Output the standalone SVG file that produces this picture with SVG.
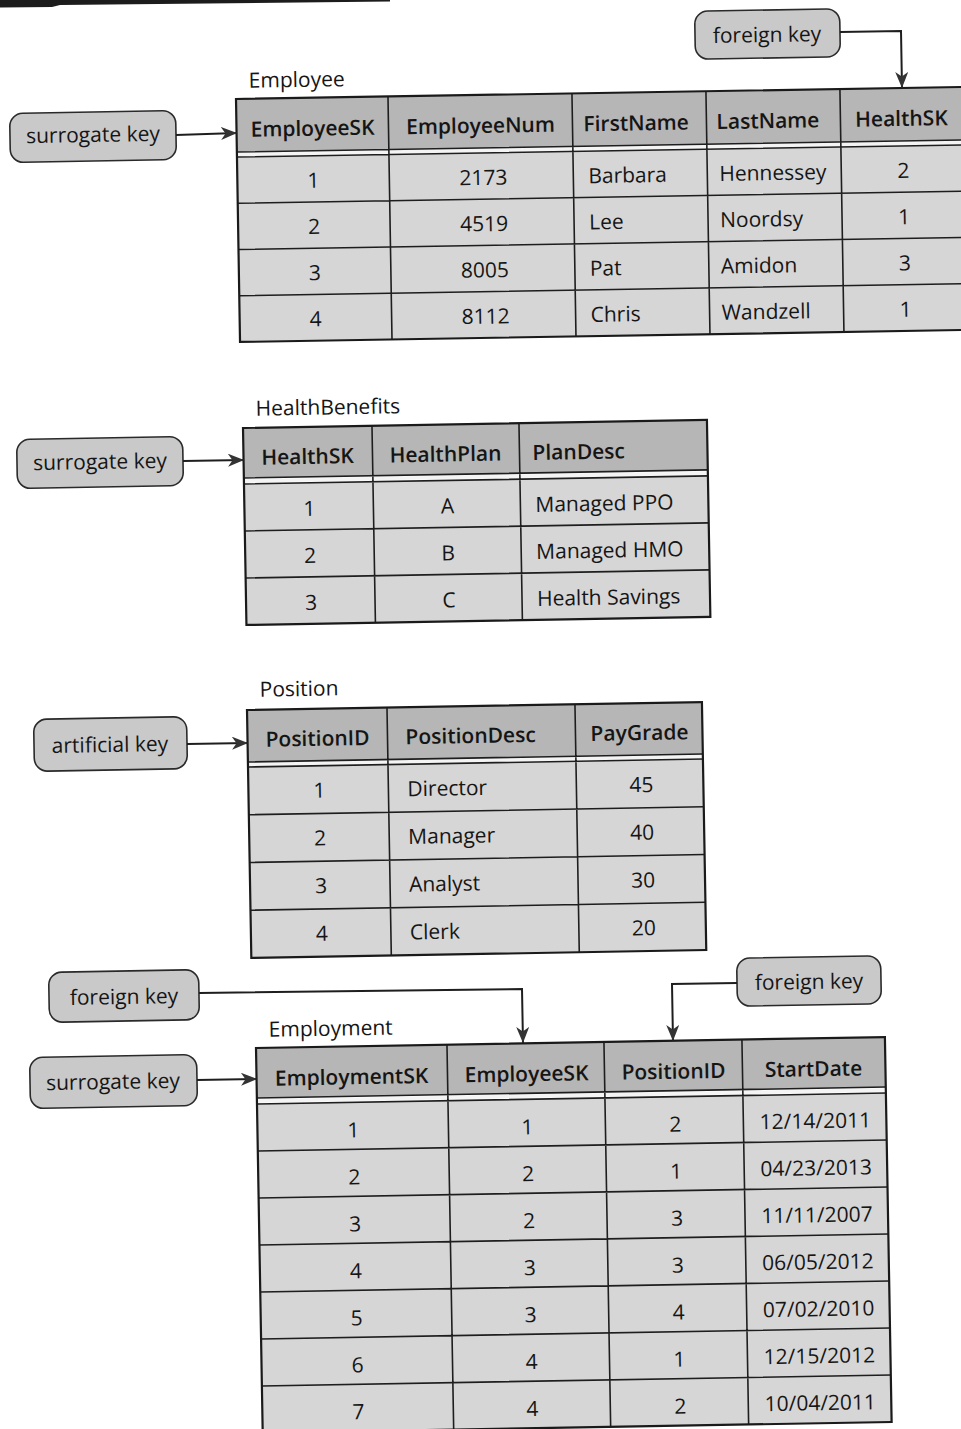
<svg xmlns="http://www.w3.org/2000/svg" width="961" height="1429" viewBox="0 0 961 1429">
  <defs>
    <style>
      text { font-family: "Open Sans", "Liberation Sans", sans-serif; font-size: 21px; fill: #151515; }
      .h { font-weight: 600; }
      .c { text-anchor: middle; }
      .hdr { fill: #b6b6b6; }
      .body { fill: #d6d6d6; }
      .grid { stroke: #1e1e1e; stroke-width: 1.6; fill: none; }
      .outer { stroke: #1a1a1a; stroke-width: 2.2; fill: none; }
      .gap { stroke: #f4f4f4; stroke-width: 3.5; }
      .key rect { fill: #c9c9c9; stroke: #2a2a2a; stroke-width: 1.6; }
      .conn { stroke: #1e1e1e; stroke-width: 2; fill: none; marker-end: url(#arrow); }
    </style>
    <marker id="arrow" markerUnits="userSpaceOnUse" markerWidth="18" markerHeight="14" refX="16" refY="6.5" orient="auto">
      <path d="M0,0 L16,6.5 L0,13 L4.5,6.5 Z" fill="#333333"/>
    </marker>
  </defs>

  <rect width="961" height="1429" fill="#ffffff"/>

  <!-- dark edge along the top of the sheet -->
  <path d="M0,0 H55 L390,0 V1.5 L60,5 L52,7 L0,7.5 Z" fill="#1c1c1c"/>

  <!-- Employee table -->
  <g id="employee" transform="translate(236 99) rotate(-0.95)">
    <text x="13" y="-11">Employee</text>
    <rect class="hdr" x="0" y="0" width="728" height="53"/>
    <rect class="body" x="0" y="58" width="728" height="185"/>
    <line class="gap" x1="0" y1="55.5" x2="728" y2="55.5"/>
    <path class="grid" d="M0,53 H728 M0,58 H728 M0,104.25 H728 M0,150.5 H728 M0,196.75 H728 M152,0 V243 M336,0 V243 M470,0 V243 M604,0 V243"/>
    <rect class="outer" x="0" y="0" width="728" height="243"/>
    <text class="h c" x="76" y="38">EmployeeSK</text>
    <text class="h c" x="244" y="38">EmployeeNum</text>
    <text class="h" x="347" y="38">FirstName</text>
    <text class="h" x="480" y="38">LastName</text>
    <text class="h c" x="665" y="38">HealthSK</text>
    <text class="c" x="76" y="90">1</text>
    <text class="c" x="246" y="90">2173</text>
    <text x="351" y="90">Barbara</text>
    <text x="482" y="90">Hennessey</text>
    <text class="c" x="666" y="90">2</text>
    <text class="c" x="76" y="136.25">2</text>
    <text class="c" x="246" y="136.25">4519</text>
    <text x="351" y="136.25">Lee</text>
    <text x="482" y="136.25">Noordsy</text>
    <text class="c" x="666" y="136.25">1</text>
    <text class="c" x="76" y="182.5">3</text>
    <text class="c" x="246" y="182.5">8005</text>
    <text x="351" y="182.5">Pat</text>
    <text x="482" y="182.5">Amidon</text>
    <text class="c" x="666" y="182.5">3</text>
    <text class="c" x="76" y="228.75">4</text>
    <text class="c" x="246" y="228.75">8112</text>
    <text x="351" y="228.75">Chris</text>
    <text x="482" y="228.75">Wandzell</text>
    <text class="c" x="666" y="228.75">1</text>
  </g>

  <!-- HealthBenefits table -->
  <g id="healthbenefits" transform="translate(243 428) rotate(-1)">
    <text x="13" y="-12">HealthBenefits</text>
    <rect class="hdr" x="0" y="0" width="464" height="50"/>
    <rect class="body" x="0" y="56" width="464" height="141"/>
    <line class="gap" x1="0" y1="53" x2="464" y2="53"/>
    <path class="grid" d="M0,50 H464 M0,56 H464 M0,103 H464 M0,150 H464 M129,0 V197 M276,0 V197"/>
    <rect class="outer" x="0" y="0" width="464" height="197"/>
    <text class="h c" x="64" y="37">HealthSK</text>
    <text class="h c" x="202" y="37">HealthPlan</text>
    <text class="h" x="289" y="37">PlanDesc</text>
    <text class="c" x="65" y="89">1</text>
    <text class="c" x="203" y="89">A</text>
    <text x="291" y="89">Managed PPO</text>
    <text class="c" x="65" y="136">2</text>
    <text class="c" x="203" y="136">B</text>
    <text x="291" y="136">Managed HMO</text>
    <text class="c" x="65" y="183">3</text>
    <text class="c" x="203" y="183">C</text>
    <text x="291" y="183">Health Savings</text>
  </g>

  <!-- Position table -->
  <g id="position" transform="translate(247 710) rotate(-1)">
    <text x="13" y="-13">Position</text>
    <rect class="hdr" x="0" y="0" width="455" height="52"/>
    <rect class="body" x="0" y="57" width="455" height="191"/>
    <line class="gap" x1="0" y1="54.5" x2="455" y2="54.5"/>
    <path class="grid" d="M0,52 H455 M0,57 H455 M0,104.75 H455 M0,152.5 H455 M0,200.25 H455 M140,0 V248 M328,0 V248"/>
    <rect class="outer" x="0" y="0" width="455" height="248"/>
    <text class="h c" x="70" y="37">PositionID</text>
    <text class="h" x="158" y="37">PositionDesc</text>
    <text class="h c" x="392" y="37">PayGrade</text>
    <text class="c" x="71" y="89">1</text>
    <text x="159" y="89">Director</text>
    <text class="c" x="393" y="89">45</text>
    <text class="c" x="71" y="136.75">2</text>
    <text x="159" y="136.75">Manager</text>
    <text class="c" x="393" y="136.75">40</text>
    <text class="c" x="71" y="184.5">3</text>
    <text x="159" y="184.5">Analyst</text>
    <text class="c" x="393" y="184.5">30</text>
    <text class="c" x="71" y="232.25">4</text>
    <text x="159" y="232.25">Clerk</text>
    <text class="c" x="393" y="232.25">20</text>
  </g>

  <!-- Employment table -->
  <g id="employment" transform="translate(256 1048) rotate(-1)">
    <text x="13" y="-11">Employment</text>
    <rect class="hdr" x="0" y="0" width="629" height="50"/>
    <rect class="body" x="0" y="56" width="629" height="329"/>
    <line class="gap" x1="0" y1="53" x2="629" y2="53"/>
    <path class="grid" d="M0,50 H629 M0,56 H629 M0,103 H629 M0,150 H629 M0,197 H629 M0,244 H629 M0,291 H629 M0,338 H629 M191,0 V385 M348,0 V385 M486,0 V385"/>
    <rect class="outer" x="0" y="0" width="629" height="385"/>
    <text class="h c" x="95" y="38">EmploymentSK</text>
    <text class="h c" x="270" y="38">EmployeeSK</text>
    <text class="h c" x="417" y="38">PositionID</text>
    <text class="h c" x="557" y="38">StartDate</text>
    <text class="c" x="96" y="91">1</text>
    <text class="c" x="270" y="91">1</text>
    <text class="c" x="418" y="91">2</text>
    <text class="c" x="558" y="90">12/14/2011</text>
    <text class="c" x="96" y="138">2</text>
    <text class="c" x="270" y="138">2</text>
    <text class="c" x="418" y="138">1</text>
    <text class="c" x="558" y="137">04/23/2013</text>
    <text class="c" x="96" y="185">3</text>
    <text class="c" x="270" y="185">2</text>
    <text class="c" x="418" y="185">3</text>
    <text class="c" x="558" y="184">11/11/2007</text>
    <text class="c" x="96" y="232">4</text>
    <text class="c" x="270" y="232">3</text>
    <text class="c" x="418" y="232">3</text>
    <text class="c" x="558" y="231">06/05/2012</text>
    <text class="c" x="96" y="279">5</text>
    <text class="c" x="270" y="279">3</text>
    <text class="c" x="418" y="279">4</text>
    <text class="c" x="558" y="278">07/02/2010</text>
    <text class="c" x="96" y="326">6</text>
    <text class="c" x="270" y="326">4</text>
    <text class="c" x="418" y="326">1</text>
    <text class="c" x="558" y="325">12/15/2012</text>
    <text class="c" x="96" y="373">7</text>
    <text class="c" x="270" y="373">4</text>
    <text class="c" x="418" y="373">2</text>
    <text class="c" x="558" y="372">10/04/2011</text>
  </g>

  <!-- key labels -->
  <g id="fk-health" class="key" transform="rotate(-1 767 34)">
    <rect x="695" y="10" width="145" height="48" rx="13"/>
    <text class="c" x="767" y="42">foreign key</text>
  </g>
  <g id="sk-employee" class="key" transform="rotate(-1 93 136)">
    <rect x="10" y="112" width="166" height="49" rx="13"/>
    <text class="c" x="93" y="142">surrogate key</text>
  </g>
  <g id="sk-health" class="key" transform="rotate(-1 100 462)">
    <rect x="17" y="438" width="166" height="49" rx="13"/>
    <text class="c" x="100" y="469">surrogate key</text>
  </g>
  <g id="ak-position" class="key" transform="rotate(-1 110 744)">
    <rect x="34" y="718" width="153" height="52" rx="13"/>
    <text class="c" x="110" y="752">artificial key</text>
  </g>
  <g id="fk-employee" class="key" transform="rotate(-1 124 996)">
    <rect x="49" y="971" width="150" height="50" rx="13"/>
    <text class="c" x="124" y="1004">foreign key</text>
  </g>
  <g id="sk-employment" class="key" transform="rotate(-1 113 1081)">
    <rect x="30" y="1056" width="167" height="51" rx="13"/>
    <text class="c" x="113" y="1089">surrogate key</text>
  </g>
  <g id="fk-position" class="key" transform="rotate(-1 809 981)">
    <rect x="737" y="957" width="144" height="48" rx="13"/>
    <text class="c" x="809" y="989">foreign key</text>
  </g>

  <!-- connectors -->
  <g id="connectors">
    <path class="conn" d="M840,32 L901,31 L902,88"/>
    <path class="conn" d="M176,135 L237,133"/>
    <path class="conn" d="M183,461 L244,460"/>
    <path class="conn" d="M187,744 L248,743"/>
    <path class="conn" d="M199,993 L522,989 L523,1043"/>
    <path class="conn" d="M197,1080 L257,1079"/>
    <path class="conn" d="M737,983 L672,984 L673,1041"/>
  </g>
</svg>
